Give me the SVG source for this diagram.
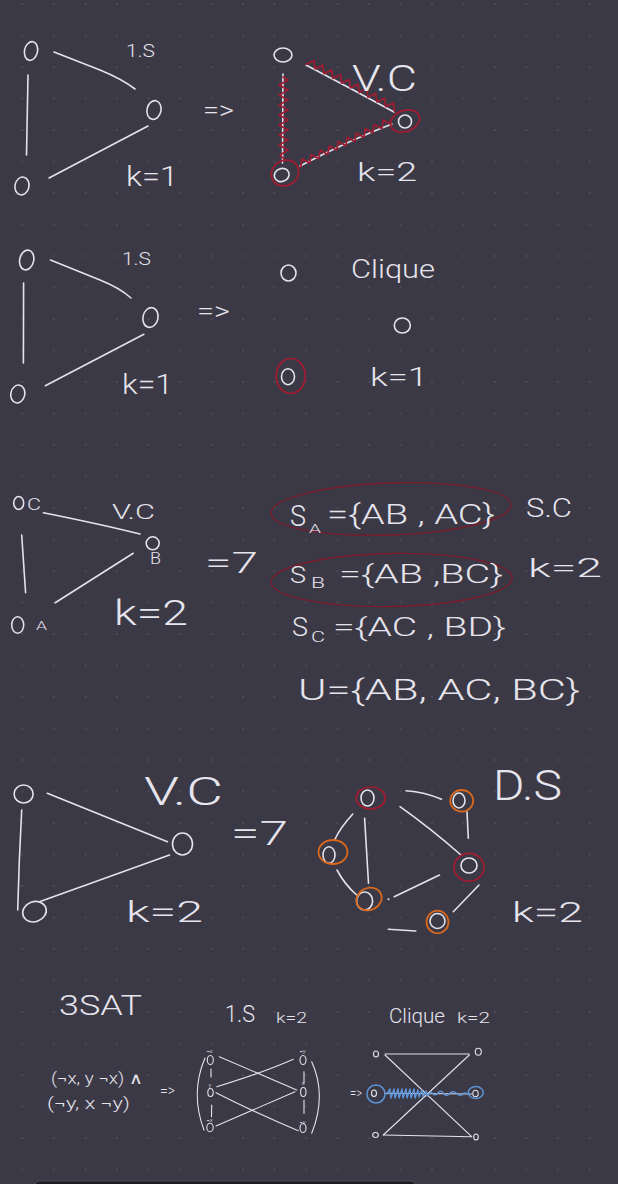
<svg xmlns="http://www.w3.org/2000/svg" width="618" height="1184" viewBox="0 0 618 1184">
<defs>
<pattern id="grid" x="6.75" y="-11.75" width="31.5" height="31.5" patternUnits="userSpaceOnUse">
<circle cx="15.75" cy="15.75" r="0.9" fill="#52505d"/>
</pattern>
</defs>
<style>
.bg{fill:#3b3946}
.w{fill:none;stroke:#e4e2ea;stroke-width:1.6;stroke-linecap:round;stroke-linejoin:round}
.ws{fill:none;stroke:#e4e2ea;stroke-width:1.1;stroke-linecap:round}
.r{fill:none;stroke:#a21b30;stroke-width:1.7;stroke-linecap:round;stroke-linejoin:round}
.dr{fill:none;stroke:#7b1b2b;stroke-width:1.3}
.o{fill:none;stroke:#d9681c;stroke-width:1.8}
.b{fill:none;stroke:#5e93d6;stroke-width:1.5;stroke-linecap:round;stroke-linejoin:round}
.t{fill:#e6e4ec;font-family:Roboto,"Open Sans","DejaVu Sans",sans-serif;font-weight:300;font-variant-ligatures:none;font-feature-settings:"calt" 0,"liga" 0}
</style>
<rect class="bg" x="0" y="0" width="618" height="1184"/>
<rect x="0" y="0" width="618" height="1184" fill="url(#grid)"/>
<rect x="35" y="1181" width="380" height="12" rx="4" fill="#1d1d21" stroke="#56555c" stroke-width="0.8"/>

<g id="connectors">
<!-- section 1 -->
<path class="w" d="M54,52 L100,70 Q122,79 135,89"/>
<path class="w" d="M28,75 L26.5,155"/>
<path class="w" d="M49,178 L148,126"/>
<path class="w" d="M283,74 L282.5,163"/>
<path class="w" d="M306,65 Q350,88 394,112"/>
<path class="w" d="M300,166 Q350,140 392,124"/>
<path class="r" d="M283,77 L288,80 L279,85 L288,90 L279,95 L288,100 L279,105 L288,110 L279,115 L288,120 L279,125 L288,130 L279,135 L288,140 L279,145 L288,150 L280,155 L284,159"/>
<path class="r" d="M306.3,64.3 L314,60.5 L315.1,69 L322.8,65.2 L323.9,73.7 L331.6,69.9 L332.8,78.5 L340.5,74.6 L341.6,83.2 L349.3,79.4 L350.4,87.9 L358.1,84.1 L359.2,92.6 L366.9,88.8 L368,97.3 L375.7,93.5 L376.9,102 L384.6,98.2 L385.7,106.7 L393.4,102.9 L394.5,111.4"/>
<path class="r" d="M300.7,167.4 L302.1,158.9 L309.7,163 L311.2,154.6 L318.7,158.7 L320.2,150.3 L327.7,154.4 L329.2,146 L336.7,150.1 L338.2,141.6 L345.8,145.8 L347.2,137.3 L354.8,141.5 L356.3,133 L363.8,137.2 L365.3,128.7 L372.8,132.9 L374.3,124.4 L381.8,128.6 L383.3,120.1 L390.9,124.3"/>
<!-- section 2 -->
<path class="w" d="M50.5,260 L100,280 Q120,288 131,298"/>
<path class="w" d="M23.6,283 L23.4,363"/>
<path class="w" d="M45.3,385.7 L143.9,334.3"/>
<!-- section 3 -->
<path class="w" d="M43.4,512.7 Q100,524 140,534"/>
<path class="w" d="M21.7,535 L25.6,592.7"/>
<path class="w" d="M55.2,602.7 L133.2,553.3"/>
<!-- section 4 -->
<path class="w" d="M47.3,793.3 L167.5,841.7"/>
<path class="w" d="M21.7,810 Q19,860 17.7,910"/>
<path class="w" d="M39.4,901.7 L169.5,855"/>
<path class="w" d="M406,790.7 Q425,792 441.5,799.3"/>
<path class="w" d="M467,811.7 L468.3,838.3"/>
<path class="w" d="M400,806.7 Q430,828 461,855"/>
<path class="w" d="M352.8,814 Q340,828 335,839.3"/>
<path class="w" d="M364.6,818.3 L368.5,883.3"/>
<path class="w" d="M337,870 Q345,885 356.7,895"/>
<path class="w" d="M394.2,896.7 L439.5,875"/>
<path class="w" d="M479,885 L453.3,911.7"/>
<path class="w" d="M388.3,929.3 L415.8,931"/>
<circle cx="388.5" cy="899.3" r="1" fill="#e4e2ea"/>
<!-- section 5: IS -->
<path class="ws" d="M211,1069 L211,1077"/>
<path class="ws" d="M211.7,1105 L211.5,1116.7"/>
<path class="ws" d="M304,1071.7 L304,1083.3"/>
<path class="ws" d="M304,1100 L304,1113.3"/>
<path class="ws" d="M205,1058 Q190,1093 204,1130"/>
<path class="ws" d="M311.7,1061.7 Q327,1095 311.7,1133.3"/>
<path class="ws" d="M219.3,1056.7 L296.7,1090"/>
<path class="ws" d="M216.7,1086.7 Q265,1072 293.3,1059.3"/>
<path class="ws" d="M216,1092.7 Q260,1115 298.3,1130.7"/>
<path class="ws" d="M216,1126 L295,1091.7"/>
<!-- section 5: clique -->
<path class="ws" d="M385,1054 L469.3,1054"/>
<path class="ws" d="M385,1055 L471.7,1136.7"/>
<path class="ws" d="M469.3,1055 L383.3,1135"/>
<path class="ws" d="M383.3,1135 L471.7,1136.7"/>
<path class="ws" d="M385,1093.3 L471.7,1094"/>
<path class="b" d="M387,1094 L390,1089 L391,1098 L394,1089 L395,1098 L398,1089 L399,1098 L402,1089 L403,1098 L406,1089 L407,1098 L410,1089 L411,1098 L414,1089 L415,1098 L418,1090 L419,1097 L422,1090 L423,1097 L426,1091 L427,1096 L431,1092 Q435,1097 438,1093 Q441,1089 444,1094 Q447,1097 450,1093 Q454,1090 457,1094 Q461,1097 464,1093 L470,1094"/>
</g>

<!-- Section 1 nodes -->
<g id="s1-n1"><ellipse class="w" cx="31" cy="51" rx="6.5" ry="9.5" transform="rotate(12 31 51)"/></g>
<g id="s1-n2"><ellipse class="w" cx="154" cy="110" rx="7" ry="9.5" transform="rotate(12 154 110)"/></g>
<g id="s1-n3"><ellipse class="w" cx="22" cy="186" rx="7" ry="9" transform="rotate(12 22 186)"/></g>
<g id="s1-m1"><ellipse class="w" cx="283" cy="55" rx="9" ry="7"/></g>
<g id="s1-m2"><ellipse class="w" cx="405" cy="121.5" rx="6.5" ry="6.5"/><ellipse class="r" cx="405" cy="121" rx="15" ry="10.5" transform="rotate(-20 405 121)"/></g>
<g id="s1-m3"><ellipse class="w" cx="281.7" cy="175" rx="7.5" ry="6.5" transform="rotate(-20 281.7 175)"/><ellipse class="r" cx="285" cy="173" rx="14" ry="12.5" transform="rotate(-30 285 173)"/></g>
<text class="t" x="126" y="57" font-size="19" textLength="29" lengthAdjust="spacingAndGlyphs">1.S</text>
<text class="t" x="203" y="119" font-size="25" textLength="31" lengthAdjust="spacingAndGlyphs">=&gt;</text>
<text class="t" x="126" y="186" font-size="27" textLength="52" lengthAdjust="spacingAndGlyphs">k=1</text>
<text class="t" x="352" y="91" font-size="37" textLength="65" lengthAdjust="spacingAndGlyphs">V.C</text>
<text class="t" x="357" y="181" font-size="25" textLength="60" lengthAdjust="spacingAndGlyphs">k=2</text>

<!-- Section 2 nodes -->
<g id="s2-n1"><ellipse class="w" cx="26.7" cy="260" rx="7" ry="10" transform="rotate(12 26.7 260)"/></g>
<g id="s2-n2"><ellipse class="w" cx="150.5" cy="317.5" rx="7.5" ry="10" transform="rotate(12 150.5 317.5)"/></g>
<g id="s2-n3"><ellipse class="w" cx="17.8" cy="394" rx="7" ry="9" transform="rotate(12 17.8 394)"/></g>
<g id="s2-m1"><ellipse class="w" cx="288.5" cy="273" rx="7.5" ry="8"/></g>
<g id="s2-m2"><ellipse class="w" cx="402.3" cy="325.5" rx="8" ry="7.5"/></g>
<g id="s2-m3"><ellipse class="w" cx="288" cy="376.7" rx="6.5" ry="8"/><ellipse class="r" cx="290.7" cy="376" rx="14.5" ry="17.5"/></g>
<text class="t" x="122" y="265" font-size="19" textLength="29" lengthAdjust="spacingAndGlyphs">1.S</text>
<text class="t" x="197" y="320" font-size="25" textLength="33" lengthAdjust="spacingAndGlyphs">=&gt;</text>
<text class="t" x="122" y="394" font-size="28" textLength="51" lengthAdjust="spacingAndGlyphs">k=1</text>
<text class="t" x="351" y="278" font-size="25" textLength="84" lengthAdjust="spacingAndGlyphs">Clique</text>
<text class="t" x="370" y="386" font-size="25" textLength="58" lengthAdjust="spacingAndGlyphs">k=1</text>

<!-- Section 3 -->
<g id="s3-c"><ellipse class="w" cx="18.7" cy="503" rx="5" ry="6.5"/><text class="t" x="27" y="510" font-size="16" textLength="14" lengthAdjust="spacingAndGlyphs">C</text></g>
<g id="s3-b"><ellipse class="w" cx="152.7" cy="543.3" rx="6.5" ry="6.5"/><text class="t" x="150" y="564" font-size="16" textLength="11" lengthAdjust="spacingAndGlyphs">B</text></g>
<g id="s3-a"><ellipse class="w" cx="17.7" cy="625" rx="6" ry="8.3"/><text class="t" x="36" y="630" font-size="12" textLength="11" lengthAdjust="spacingAndGlyphs">A</text></g>
<text class="t" x="112" y="519" font-size="21" textLength="43" lengthAdjust="spacingAndGlyphs">V.C</text>
<text class="t" x="114" y="625" font-size="35" textLength="74" lengthAdjust="spacingAndGlyphs">k=2</text>
<text class="t" x="205" y="573" font-size="30" textLength="53" lengthAdjust="spacingAndGlyphs">=7</text>
<g id="s3-sa">
<ellipse class="dr" cx="391" cy="509" rx="120" ry="26" transform="rotate(-2 391 509)"/>
<text class="t" x="290" y="526" font-size="30" textLength="16" lengthAdjust="spacingAndGlyphs">S</text>
<text class="t" x="309" y="533" font-size="13" textLength="12" lengthAdjust="spacingAndGlyphs">A</text>
<text class="t" x="327" y="524" font-size="28" textLength="168" lengthAdjust="spacingAndGlyphs">={AB , AC}</text>
</g>
<text class="t" x="526" y="517" font-size="26" textLength="46" lengthAdjust="spacingAndGlyphs">S.C</text>
<g id="s3-sb">
<ellipse class="dr" cx="391.7" cy="580" rx="120.5" ry="26.5" transform="rotate(-1 391.7 580)"/>
<text class="t" x="290" y="583" font-size="24" textLength="16" lengthAdjust="spacingAndGlyphs">S</text>
<text class="t" x="311" y="588" font-size="14" textLength="14" lengthAdjust="spacingAndGlyphs">B</text>
<text class="t" x="339" y="583" font-size="26" textLength="164" lengthAdjust="spacingAndGlyphs">={AB ,BC}</text>
</g>
<text class="t" x="528" y="577" font-size="26" textLength="74" lengthAdjust="spacingAndGlyphs">k=2</text>
<g id="s3-sc">
<text class="t" x="292" y="636" font-size="26" textLength="16" lengthAdjust="spacingAndGlyphs">S</text>
<text class="t" x="311" y="642" font-size="14" textLength="14" lengthAdjust="spacingAndGlyphs">C</text>
<text class="t" x="333" y="636" font-size="26" textLength="173" lengthAdjust="spacingAndGlyphs">={AC , BD}</text>
</g>
<text class="t" x="298" y="700" font-size="30" textLength="282" lengthAdjust="spacingAndGlyphs">U={AB, AC, BC}</text>

<!-- Section 4 -->
<g id="s4-n1"><ellipse class="w" cx="23.6" cy="794" rx="9.5" ry="9"/></g>
<g id="s4-n2"><ellipse class="w" cx="182.5" cy="844" rx="10" ry="11"/></g>
<g id="s4-n3"><ellipse class="w" cx="34.5" cy="911.7" rx="12" ry="10" transform="rotate(-20 34.5 911.7)"/></g>
<text class="t" x="144" y="805" font-size="39" textLength="79" lengthAdjust="spacingAndGlyphs">V.C</text>
<text class="t" x="231" y="845" font-size="34" textLength="57" lengthAdjust="spacingAndGlyphs">=7</text>
<text class="t" x="126" y="922" font-size="30" textLength="77" lengthAdjust="spacingAndGlyphs">k=2</text>
<g id="ds-a"><ellipse class="w" cx="367.5" cy="798" rx="6.5" ry="8"/><ellipse class="r" cx="370.7" cy="798" rx="14.5" ry="11"/></g>
<g id="ds-b"><ellipse class="w" cx="459" cy="800.5" rx="6" ry="7.5"/><ellipse class="o" cx="461.7" cy="800.8" rx="11.5" ry="10.8"/></g>
<g id="ds-c"><ellipse class="w" cx="469" cy="865.5" rx="8" ry="7.5"/><ellipse class="r" cx="469" cy="867.3" rx="15" ry="14"/></g>
<g id="ds-d"><ellipse class="w" cx="329" cy="855" rx="6" ry="8.3"/><ellipse class="o" cx="333" cy="852" rx="14.5" ry="12"/></g>
<g id="ds-e"><ellipse class="w" cx="364.6" cy="901" rx="8" ry="9"/><ellipse class="o" cx="369" cy="899" rx="13" ry="11" transform="rotate(-25 369 899)"/></g>
<g id="ds-f"><ellipse class="w" cx="437.5" cy="921" rx="7.5" ry="7.5"/><ellipse class="o" cx="437.5" cy="922" rx="11" ry="11.3"/></g>
<text class="t" x="493" y="800" font-size="42" textLength="69" lengthAdjust="spacingAndGlyphs">D.S</text>
<text class="t" x="512" y="922" font-size="28" textLength="71" lengthAdjust="spacingAndGlyphs">k=2</text>

<!-- Section 5 -->
<text class="t" x="59" y="1015" font-size="27" textLength="83" lengthAdjust="spacingAndGlyphs">3SAT</text>
<text class="t" x="225" y="1022" font-size="24" textLength="30" lengthAdjust="spacingAndGlyphs">1.S</text>
<text class="t" x="276" y="1023" font-size="15" textLength="31" lengthAdjust="spacingAndGlyphs">k=2</text>
<text class="t" x="389" y="1023" font-size="20" textLength="56" lengthAdjust="spacingAndGlyphs">Clique</text>
<text class="t" x="457" y="1023" font-size="15" textLength="33" lengthAdjust="spacingAndGlyphs">k=2</text>
<text class="t" x="51" y="1084" font-size="16" textLength="92" lengthAdjust="spacingAndGlyphs">(¬x, y ¬x) ∧</text>
<text class="t" x="47" y="1109" font-size="16" textLength="83" lengthAdjust="spacingAndGlyphs">(¬y, x ¬y)</text>
<text class="t" x="160" y="1096" font-size="16" textLength="15" lengthAdjust="spacingAndGlyphs">=&gt;</text>
<g id="is-l1"><ellipse class="ws" cx="210.3" cy="1060" rx="3" ry="4.5"/><text class="t" x="206.5" y="1053" font-size="6">¬x</text></g>
<g id="is-l2"><ellipse class="ws" cx="210.5" cy="1092.5" rx="2.7" ry="4"/><text class="t" x="208.5" y="1087" font-size="6">y</text></g>
<g id="is-l3"><ellipse class="ws" cx="210" cy="1127.5" rx="3.2" ry="4.3"/><text class="t" x="206.5" y="1122" font-size="6">¬x</text></g>
<g id="is-r1"><ellipse class="ws" cx="303" cy="1060" rx="3" ry="4.5"/><text class="t" x="299.5" y="1053" font-size="6">¬y</text></g>
<g id="is-r2"><ellipse class="ws" cx="303.3" cy="1092" rx="2.7" ry="4.5"/><text class="t" x="301.5" y="1085" font-size="6">x</text></g>
<g id="is-r3"><ellipse class="ws" cx="303" cy="1128" rx="3" ry="4.5"/><text class="t" x="299.5" y="1124" font-size="6">¬y</text></g>
<text class="t" x="350" y="1098" font-size="15" textLength="12" lengthAdjust="spacingAndGlyphs">=&gt;</text>
<g id="cq-tl"><ellipse class="ws" cx="376" cy="1054" rx="2.5" ry="3"/></g>
<g id="cq-tr"><ellipse class="ws" cx="478.3" cy="1051.7" rx="3" ry="3.5"/></g>
<g id="cq-bl"><ellipse class="ws" cx="375.5" cy="1135" rx="2.8" ry="2.5"/></g>
<g id="cq-br"><ellipse class="ws" cx="476" cy="1137" rx="2.3" ry="3"/></g>
<g id="cq-ml"><ellipse class="ws" cx="374" cy="1093.3" rx="2.5" ry="3.3"/><ellipse class="b" cx="376" cy="1094" rx="9" ry="9"/></g>
<g id="cq-mr"><ellipse class="ws" cx="475.5" cy="1093.5" rx="2.7" ry="3.3"/><ellipse class="b" cx="475.8" cy="1092.5" rx="7.5" ry="6"/></g>
</svg>
